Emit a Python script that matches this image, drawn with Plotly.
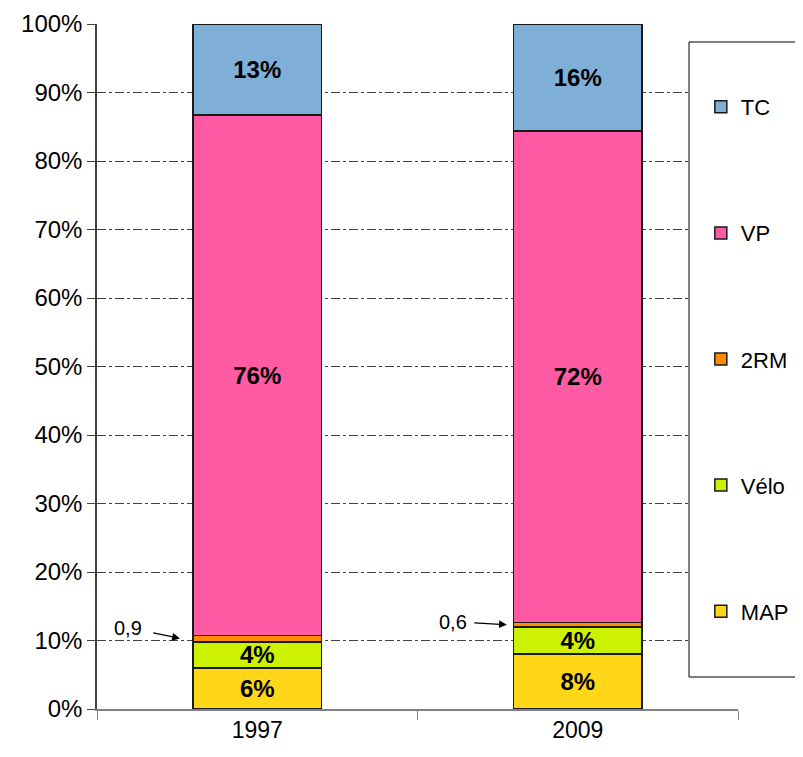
import plotly.graph_objects as go

years = ["1997", "2009"]
modes = ["MAP", "Vélo", "2RM", "VP", "TC"]
values = {
    "MAP": [6.0, 8.0],
    "Vélo": [3.8, 4.0],
    "2RM": [0.9, 0.6],
    "VP": [76.0, 71.8],
    "TC": [13.3, 15.6],
}
labels = {
    "MAP": ["6%", "8%"],
    "Vélo": ["4%", "4%"],
    "2RM": ["", ""],
    "VP": ["76%", "72%"],
    "TC": ["13%", "16%"],
}
small_labels = ["0,9", "0,6"]
colors = {
    "MAP": "#FFD718",
    "Vélo": "#CCF200",
    "2RM": "#FF8C00",
    "VP": "#FF5BA4",
    "TC": "#7FAFD7",
}
yticks = list(range(0, 101, 10))
ytick_text = [f"{v}%" for v in yticks]

FONT = "Liberation Sans, Arial"

fig = go.Figure()
for i, m in enumerate(modes):
    fig.add_trace(go.Bar(
        x=years, y=values[m], name=m,
        legendgroup=m, legendrank=len(modes) - i,
        marker=dict(color=colors[m], line=dict(color="#1a1a1a", width=1.5)),
        text=labels[m], textposition="inside", insidetextanchor="middle",
        constraintext="none",
        textfont=dict(family=FONT, size=24, color="black", weight="bold"),
    ))

# small 2RM annotations
tip_y = [values["MAP"][i] + values["Vélo"][i] + values["2RM"][i] / 2 for i in range(2)]
fig.add_annotation(x=-0.235, y=tip_y[0], xref="x", yref="y", text=small_labels[0],
                   showarrow=True, ax=-54, ay=-11, arrowhead=2, arrowsize=1.2,
                   arrowwidth=1.3, arrowcolor="black", standoff=2, startstandoff=10,
                   font=dict(family=FONT, size=20, color="black"))
fig.add_annotation(x=0.785, y=tip_y[1], xref="x", yref="y", text=small_labels[1],
                   showarrow=True, ax=-56, ay=-3, arrowhead=2, arrowsize=1.2,
                   arrowwidth=1.3, arrowcolor="black", standoff=2, startstandoff=6,
                   font=dict(family=FONT, size=20, color="black"))

# legend frame (open on the right, running off the page as in the reference)
fig.add_shape(type="path", xref="paper", yref="paper",
              path="M 1.3,0.0467 L 0.9236,0.0467 L 0.9236,0.9737 L 1.3,0.9737",
              line=dict(color="black", width=1), fillcolor="white", layer="above")

fig.update_layout(
    width=795, height=749,
    barmode="stack", bargap=0.6,
    margin=dict(l=89, r=65, t=16, b=48, autoexpand=False),
    paper_bgcolor="white", plot_bgcolor="white",
    font=dict(family=FONT, size=24, color="black"),
    showlegend=True,
    legend=dict(
        x=0.942, y=0.9095, xanchor="left", yanchor="top",
        traceorder="grouped", tracegroupgap=94.5,
        borderwidth=0, bgcolor="rgba(0,0,0,0)",
        font=dict(family=FONT, size=22, color="black"),
    ),
    xaxis=dict(
        type="category", showline=True, linecolor="#808080", linewidth=1.5,
        ticks="outside", tickson="boundaries", ticklen=9, tickcolor="#808080",
        showgrid=False, tickfont=dict(size=23), automargin=False,
    ),
    yaxis=dict(
        range=[0, 100], tickmode="array", tickvals=yticks, ticktext=ytick_text,
        showline=True, linecolor="#404040", linewidth=1.5,
        ticks="outside", ticklen=8, tickcolor="#404040",
        showgrid=True, gridcolor="#404040", gridwidth=1, griddash="dashdot",
        zeroline=False, tickfont=dict(size=24), automargin=False,
    ),
)

fig.write_html("out.html")
